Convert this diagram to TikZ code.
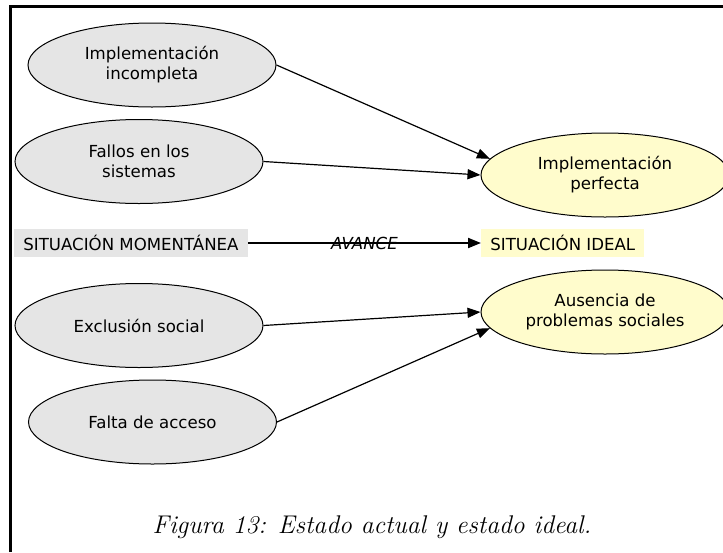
\documentclass[tikz,border=0pt]{standalone}
\usepackage{fontspec}
\newfontfamily\dejavu{DejaVu Sans}
\usetikzlibrary{arrows.meta}
\usetikzlibrary{quotes}
\usetikzlibrary{shapes.geometric}

\begin{document}
\begin{tikzpicture}[x=0.5pt,y=-0.5pt,>={Triangle[length=6.5pt,width=5pt]},
    every edge quotes/.style={font=\dejavu\itshape\fontsize{8.3}{10}\selectfont,inner sep=0pt},
    every ellipse node/.style={draw,line width=0.5pt,minimum width=124pt,minimum height=42pt,inner sep=0pt,align=center,font=\dejavu\fontsize{8.3}{10}\selectfont},
    situacion/.style={inner xsep=4.5pt,inner ysep=0pt,minimum height=14pt,font=\dejavu\fontsize{8.3}{10}\selectfont},
    actual/.style={fill=gray!20},
    ideal/.style={fill=yellow!20}]
    \useasboundingbox (0,0) rectangle (723,552);
    \draw[line width=1.2pt] (10.5,552) -- (10.5,6.5) -- (723,6.5);
    \node[ellipse,actual] (inc) at (152,65) {Implementación\\incompleta};
    \node[ellipse,actual] (fal) at (139,161.5) {Fallos en los\\sistemas};
    \node[ellipse,actual] (exc) at (139,325.5) {Exclusión social};
    \node[ellipse,actual] (acc) at (152.5,422) {Falta de acceso};
    \node[ellipse,ideal] (per) at (605,175) {Implementación\\perfecta};
    \node[ellipse,ideal] (aus) at (605,312) {Ausencia de\\problemas sociales};
    \node[situacion,actual,anchor=west] (mom) at (14,243) {SITUACIÓN MOMENTÁNEA};
    \node[situacion,ideal,anchor=west] (ide) at (481,243) {SITUACIÓN IDEAL};
    \draw[line width=0.6pt] (inc.east) edge[->] (per.172) ;
    \draw[line width=0.6pt] (fal.east) edge[->] (per.west) ;
    \draw[line width=0.6pt] (exc.east) edge[->] (aus.west) ;
    \draw[line width=0.6pt] (acc.east) edge[->] (aus.188) ;
    \draw[line width=1pt] (mom) edge["AVANCE",->] (ide) ;
    \node[font=\fontsize{12.8}{15}\selectfont\itshape,anchor=base] (cap) at (372,533) {Figura 13: Estado actual y estado ideal.};
\end{tikzpicture}
\end{document}
